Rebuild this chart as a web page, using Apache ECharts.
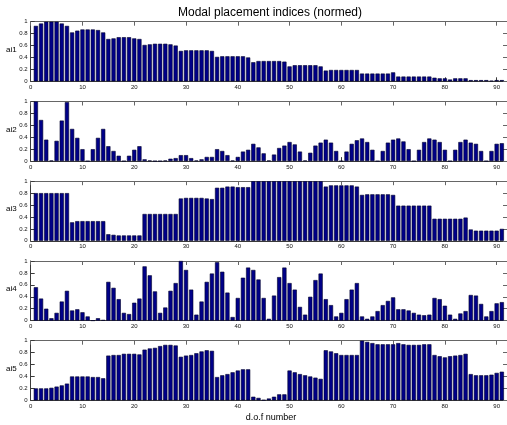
<!DOCTYPE html>
<html>
<head>
<meta charset="utf-8">
<script src="https://cdn.jsdelivr.net/npm/echarts@6/dist/echarts.min.js"></script>
<style>
html,body{margin:0;padding:0;background:#fff;}
#chart{width:507px;height:425px;}
</style>
</head>
<body>
<div id="chart"></div>
<script>
const dofs = [1,2,3,4,5,6,7,8,9,10,11,12,13,14,15,16,17,18,19,20,21,22,23,24,25,26,27,28,29,30,
  31,32,33,34,35,36,37,38,39,40,41,42,43,44,45,46,47,48,49,50,51,52,53,54,55,56,57,58,59,60,
  61,62,63,64,65,66,67,68,69,70,71,72,73,74,75,76,77,78,79,80,81,82,83,84,85,86,87,88,89,90,91];

const xTicks = [0,10,20,30,40,50,60,70,80,90];
const yTicks = [0,0.2,0.4,0.6,0.8,1];
const titleText = 'Modal placement indices (normed)';
const xLabel = 'd.o.f number';
const seriesNames = ['ai1','ai2','ai3','ai4','ai5'];

const ai1 = [0.93,0.97,1.0,1.0,1.0,0.97,0.93,
  0.82,0.85,0.87,0.87,0.87,0.86,0.82,
  0.71,0.72,0.74,0.74,0.74,0.72,0.71,
  0.61,0.62,0.63,0.63,0.63,0.62,0.60,
  0.51,0.52,0.52,0.52,0.52,0.52,0.51,
  0.41,0.42,0.42,0.42,0.42,0.42,0.40,
  0.32,0.34,0.34,0.34,0.34,0.34,0.33,
  0.25,0.27,0.27,0.27,0.27,0.27,0.25,
  0.18,0.19,0.19,0.19,0.19,0.19,0.19,
  0.13,0.13,0.13,0.13,0.13,0.13,0.15,
  0.08,0.08,0.08,0.08,0.08,0.08,0.08,
  0.06,0.05,0.05,0.03,0.05,0.05,0.05,
  0.02,0.02,0.02,0.02,0.01,0.02,0.02];

const ai2 = [1.0,0.69,0.36,0.01,0.34,0.68,0.99,
  0.54,0.39,0.20,0.0,0.20,0.39,0.54,
  0.25,0.17,0.09,0.0,0.09,0.19,0.25,
  0.03,0.01,0.0,0.0,0.01,0.04,0.05,
  0.10,0.10,0.05,0.01,0.03,0.07,0.07,
  0.20,0.17,0.10,0.01,0.07,0.16,0.19,
  0.29,0.23,0.13,0.01,0.11,0.22,0.26,
  0.32,0.28,0.16,0.01,0.14,0.26,0.31,
  0.36,0.31,0.17,0.0,0.16,0.29,0.35,
  0.38,0.32,0.19,0.0,0.17,0.31,0.36,
  0.38,0.33,0.20,0.0,0.19,0.32,0.38,
  0.36,0.32,0.19,0.0,0.19,0.32,0.36,
  0.31,0.29,0.17,0.0,0.17,0.29,0.30];

const ai3 = [0.80,0.80,0.80,0.80,0.80,0.80,0.80,
  0.31,0.33,0.33,0.33,0.33,0.33,0.33,
  0.11,0.10,0.09,0.09,0.09,0.09,0.09,
  0.45,0.45,0.45,0.45,0.45,0.45,0.45,
  0.71,0.72,0.72,0.72,0.72,0.71,0.70,
  0.89,0.89,0.91,0.91,0.90,0.90,0.90,
  1.0,1.0,1.0,1.0,1.0,1.0,1.0,
  1.0,1.0,1.0,1.0,1.0,1.0,1.0,
  0.91,0.93,0.93,0.93,0.93,0.93,0.91,
  0.77,0.78,0.78,0.78,0.78,0.78,0.77,
  0.59,0.59,0.59,0.59,0.59,0.59,0.59,
  0.37,0.37,0.37,0.37,0.37,0.37,0.39,
  0.19,0.17,0.17,0.17,0.17,0.17,0.20];

const ai4 = [0.56,0.37,0.20,0.04,0.13,0.32,0.50,
  0.17,0.19,0.14,0.07,0.0,0.04,0.01,
  0.65,0.55,0.36,0.13,0.11,0.30,0.37,
  0.91,0.76,0.49,0.13,0.22,0.50,0.63,
  1.0,0.85,0.52,0.10,0.32,0.65,0.79,
  0.98,0.82,0.47,0.06,0.38,0.72,0.89,
  0.85,0.69,0.38,0.03,0.42,0.73,0.89,
  0.63,0.52,0.23,0.10,0.40,0.68,0.79,
  0.36,0.26,0.07,0.13,0.36,0.52,0.63,
  0.07,0.03,0.07,0.16,0.26,0.33,0.39,
  0.19,0.19,0.17,0.13,0.10,0.09,0.10,
  0.38,0.36,0.25,0.10,0.03,0.12,0.16,
  0.43,0.42,0.28,0.07,0.16,0.29,0.31];

const ai5 = [0.20,0.20,0.20,0.21,0.23,0.25,0.28,
  0.40,0.40,0.40,0.40,0.39,0.39,0.37,
  0.75,0.76,0.76,0.78,0.78,0.78,0.77,
  0.85,0.87,0.88,0.91,0.93,0.93,0.92,
  0.73,0.75,0.76,0.79,0.82,0.84,0.83,
  0.39,0.42,0.44,0.47,0.50,0.52,0.52,
  0.06,0.04,0.005,0.03,0.06,0.10,0.10,
  0.50,0.47,0.44,0.42,0.40,0.38,0.36,
  0.84,0.82,0.79,0.76,0.76,0.76,0.76,
  1.0,0.98,0.96,0.94,0.94,0.94,0.94,
  0.96,0.94,0.93,0.93,0.93,0.94,0.94,
  0.76,0.74,0.72,0.74,0.75,0.76,0.78,
  0.44,0.42,0.42,0.42,0.43,0.46,0.48];

const allSeries = [ai1, ai2, ai3, ai4, ai5];

const chart = echarts.init(document.getElementById('chart'), null, {renderer:'canvas'});

const gridLeft = 30.7;
const xMax = 92;
const pxPerUnit = 5.228;
const gridWidth = xMax * pxPerUnit;
const gridHeight = 59.6;
const gridTops = [21.7, 101.5, 181.2, 261.0, 340.7];
const axisColor = '#3a3a3a';
const boxColor = '#666';
const fontFam = 'Liberation Sans, Arial, sans-serif';

const grids = [], xAxes = [], yAxes = [], series = [], graphics = [];

gridTops.forEach((top, k) => {
  grids.push({left: gridLeft, top: top, width: gridWidth, height: gridHeight, containLabel: false});
  xAxes.push({
    type:'value', gridIndex:k, min:0, max:xMax, interval:10, position:'bottom',
    axisLine:{show:true, onZero:false, lineStyle:{color:axisColor, width:1}},
    axisTick:{show:true, inside:true, length:4, lineStyle:{color:axisColor}},
    axisLabel:{show:true, fontSize:6, color:'#111', margin:3, fontFamily:fontFam,
      customValues: xTicks, formatter: v => String(v)},
    splitLine:{show:false}
  });
  xAxes.push({
    type:'value', gridIndex:k, min:0, max:xMax, interval:10, position:'top',
    axisLine:{show:true, onZero:false, lineStyle:{color:boxColor, width:1}},
    axisTick:{show:true, inside:true, length:4, lineStyle:{color:boxColor}},
    axisLabel:{show:false}, splitLine:{show:false}
  });
  yAxes.push({
    type:'value', gridIndex:k, min:0, max:1, interval:0.2, position:'left',
    axisLine:{show:true, onZero:false, lineStyle:{color:axisColor, width:1}},
    axisTick:{show:true, inside:true, length:4, lineStyle:{color:axisColor}},
    axisLabel:{show:true, fontSize:6, color:'#111', margin:3, fontFamily:fontFam,
      customValues: yTicks, formatter: v => String(+v.toFixed(1))},
    splitLine:{show:false}
  });
  yAxes.push({
    type:'value', gridIndex:k, min:0, max:1, interval:0.2, position:'right',
    axisLine:{show:true, onZero:false, lineStyle:{color:boxColor, width:1}},
    axisTick:{show:true, inside:true, length:4, lineStyle:{color:boxColor}},
    axisLabel:{show:false}, splitLine:{show:false}
  });
  series.push({
    type:'bar', name: seriesNames[k], xAxisIndex: 2*k, yAxisIndex: 2*k,
    data: dofs.map((d, i) => [d, allSeries[k][i]]),
    barWidth: 0.8 * pxPerUnit,
    itemStyle:{color:'#000088', borderColor:'#00002a', borderWidth:0.6},
    silent:true, animation:false
  });
  graphics.push({
    type:'text', left: 6, top: top + gridHeight/2 - 6,
    style:{text: seriesNames[k], fontSize:8, fill:'#000', fontFamily:fontFam}
  });
});

graphics.push({
  type:'text', x: 270, y: 13,
  style:{text: titleText, fontSize:12, fill:'#000', fontFamily:fontFam, align:'center', verticalAlign:'middle'}
});
graphics.push({
  type:'text', x: 271, y: 418,
  style:{text: xLabel, fontSize:9, fill:'#000', fontFamily:fontFam, align:'center', verticalAlign:'middle'}
});

chart.setOption({
  animation:false,
  backgroundColor:'#fff',
  grid: grids,
  xAxis: xAxes,
  yAxis: yAxes,
  series: series,
  graphic: graphics
});
</script>
</body>
</html>
